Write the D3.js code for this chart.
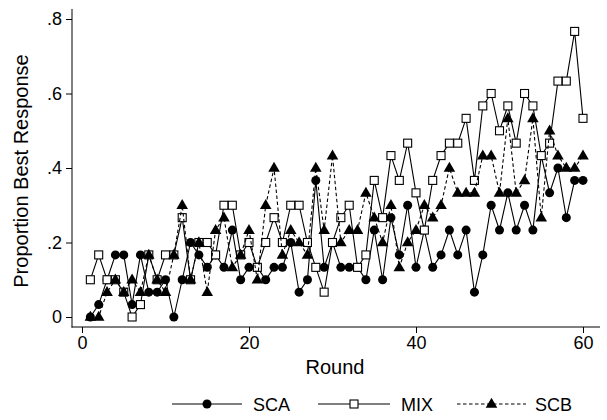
<!DOCTYPE html>
<html>
<head>
<meta charset="utf-8">
<script src="https://cdn.jsdelivr.net/npm/d3@7"></script>
<style>
  html, body { margin: 0; padding: 0; background: #fff; }
  svg { display: block; font-family: "Liberation Sans", Arial, Helvetica, sans-serif; }
</style>
</head>
<body>
<svg id="chart" width="607" height="420"></svg>
<script>
// Rounds of play
const rounds = [1,2,3,4,5,6,7,8,9,10,11,12,13,14,15,16,17,18,19,20,
                21,22,23,24,25,26,27,28,29,30,31,32,33,34,35,36,37,38,39,40,
                41,42,43,44,45,46,47,48,49,50,51,52,53,54,55,56,57,58,59,60];

// Proportion of best responses per round, by treatment
const sca = [0,.0333,.1,.1667,.1667,.0333,.1667,.0667,.0667,.1,
             0,.1,.2,.1667,.1333,.1667,.1333,.2333,.1,.1333,
             .1333,.1,.1333,.1333,.2,.0667,.1,.3667,.1333,.2,
             .1333,.1333,.1333,.1,.2333,.1,.2667,.1667,.3,.1333,
             .2333,.1333,.1667,.2333,.1667,.2333,.0667,.1667,.3,.2333,
             .3333,.2333,.3,.2333,.4333,.3333,.4,.2667,.3667,.3667];
const mix = [.1,.1667,.1,.1,.0667,0,.0333,.1667,.1,.1667,
             .1667,.2667,.1,.2,.2,.1667,.3,.3,.1667,.2,
             .1333,.2,.2667,.2,.3,.3,.2,.1333,.0667,.2,
             .2667,.3,.1333,.1667,.3667,.2667,.4333,.3667,.4667,.3333,
             .2333,.3667,.4333,.4667,.4667,.5333,.3667,.5667,.6,.5,
             .5667,.4667,.6,.5667,.4333,.4667,.6333,.6333,.7667,.5333];
const scb = [0,0,.0667,.1,.0667,.1,.0667,.1667,.1,.0667,
             .1667,.3,.1,.2,.0667,.2333,.2667,.1333,.1667,.2333,
             .1,.3,.4,.1667,.2333,.2,.1667,.4,.2333,.4333,
             .2,.2333,.2333,.3333,.2667,.2,.3,.1333,.2,.2333,
             .3,.2667,.3,.4,.3333,.3333,.3333,.4333,.4333,.3333,
             .5333,.3333,.3667,.5333,.2667,.5,.4333,.4,.4,.4333];

const xTicks = [0, 20, 40, 60];
const yTicks = [0, .2, .4, .6, .8];
const yTickLabels = ["0", ".2", ".4", ".6", ".8"];
const seriesNames = ["SCA", "MIX", "SCB"];

const svg = d3.select("#chart");
const FS = 18;      // tick labels and legend
const TFS = 20;     // axis titles

const x = d3.scaleLinear().domain([0, 60]).range([82, 583]);
const y = d3.scaleLinear().domain([0, 0.8]).range([317, 19]);

const axisX = 72, axisY = 327;

// y axis
const yAxis = d3.axisLeft(y).tickValues(yTicks)
  .tickFormat((d, i) => yTickLabels[i]).tickSize(6).tickPadding(4);
const gy = svg.append("g").attr("transform", `translate(${axisX},0)`).call(yAxis);
gy.select(".domain").remove();
gy.append("line").attr("x1", 0).attr("x2", 0).attr("y1", 9).attr("y2", axisY + 0.5)
  .attr("stroke", "#000").attr("stroke-width", 1);

// x axis
const xAxis = d3.axisBottom(x).tickValues(xTicks).tickFormat(d3.format("d")).tickSize(6).tickPadding(3);
const gx = svg.append("g").attr("transform", `translate(0,${axisY})`).call(xAxis);
gx.select(".domain").remove();
gx.append("line").attr("x1", axisX - 0.5).attr("x2", 600).attr("y1", 0).attr("y2", 0)
  .attr("stroke", "#000").attr("stroke-width", 1);

svg.selectAll(".tick text").attr("font-size", FS).attr("fill", "#000")
  .attr("font-family", "'Liberation Sans', Arial, sans-serif");
svg.selectAll(".tick line").attr("stroke", "#000");

// axis titles
svg.append("text").attr("x", 335).attr("y", 374).attr("text-anchor", "middle")
  .attr("font-size", TFS).text("Round");
svg.append("text").attr("transform", "translate(28,171) rotate(-90)")
  .attr("text-anchor", "middle").attr("font-size", TFS).text("Proportion Best Response");

// marker shapes
const circ = d3.symbol().type(d3.symbolCircle).size(64);
const tri = d3.symbol().type(d3.symbolTriangle).size(58);

function drawSeries(vals, kind) {
  const pts = rounds.map((r, i) => [x(r), y(vals[i])]);
  const line = d3.line();
  const g = svg.append("g");
  g.append("path").attr("d", line(pts)).attr("fill", "none").attr("stroke", "#000")
    .attr("stroke-width", 1.1)
    .attr("stroke-dasharray", kind === "tri" ? "3.5,2.5" : null);
  drawMarkers(g, pts, kind);
}

function drawMarkers(g, pts, kind) {
  if (kind === "circle") {
    g.selectAll("path.m").data(pts).join("path").attr("class", "m")
      .attr("d", circ).attr("transform", d => `translate(${d[0]},${d[1]})`).attr("fill", "#000");
  } else if (kind === "square") {
    g.selectAll("rect.m").data(pts).join("rect").attr("class", "m")
      .attr("x", d => d[0] - 4).attr("y", d => d[1] - 4).attr("width", 8).attr("height", 8)
      .attr("fill", "#fff").attr("stroke", "#000").attr("stroke-width", 1.1);
  } else {
    g.selectAll("path.m").data(pts).join("path").attr("class", "m")
      .attr("d", tri).attr("transform", d => `translate(${d[0]},${d[1] + 0.5})`).attr("fill", "#000");
  }
}

drawSeries(sca, "circle");
drawSeries(mix, "square");
drawSeries(scb, "tri");

// legend
const legendKeys = [
  { name: seriesNames[0], kind: "circle", x0: 172, x1: 242, tx: 253 },
  { name: seriesNames[1], kind: "square", x0: 318, x1: 390, tx: 401 },
  { name: seriesNames[2], kind: "tri",    x0: 457, x1: 526, tx: 535 }
];
const ly = 404;
legendKeys.forEach(k => {
  const g = svg.append("g");
  g.append("line").attr("x1", k.x0).attr("x2", k.x1).attr("y1", ly).attr("y2", ly)
    .attr("stroke", "#000").attr("stroke-width", 1.1)
    .attr("stroke-dasharray", k.kind === "tri" ? "3.5,2.5" : null);
  drawMarkers(g, [[(k.x0 + k.x1) / 2, ly]], k.kind);
  svg.append("text").attr("x", k.tx).attr("y", ly + 6.5).attr("font-size", FS).text(k.name);
});
</script>
</body>
</html>
